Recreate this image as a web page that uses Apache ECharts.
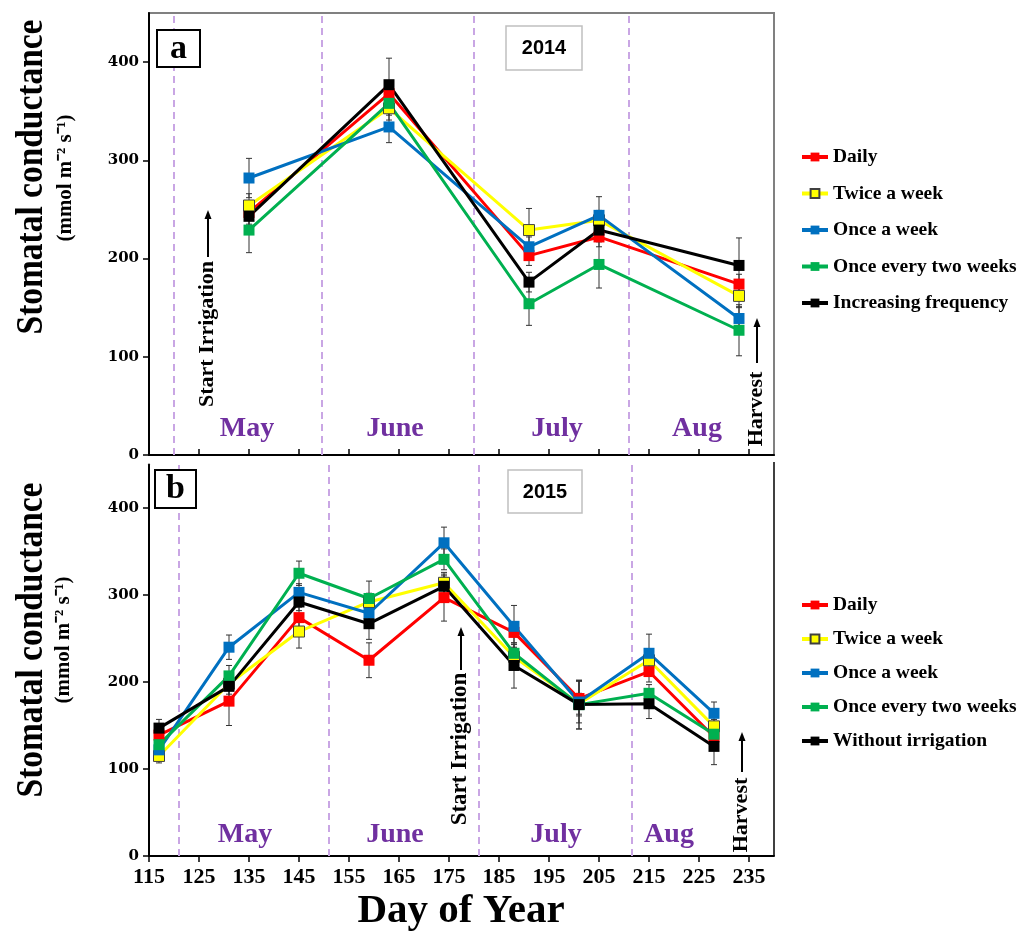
<!DOCTYPE html>
<html><head><meta charset="utf-8">
<script src="https://cdn.jsdelivr.net/npm/echarts@6/dist/echarts.min.js"></script>
<style>html,body{margin:0;padding:0;background:#fff}#c{width:1023px;height:931px}</style>
</head><body><div id="c"></div>
<script>
// ---------- DATA ----------
const seriesNames2014 = ['Daily', 'Twice a week', 'Once a week', 'Once every two weeks', 'Increasing frequency'];
const seriesNames2015 = ['Daily', 'Twice a week', 'Once a week', 'Once every two weeks', 'Without irrigation'];

const days2014 = [135, 163, 191, 205, 233];
const daily2014 = [247, 368, 203, 222, 174];
const twice2014 = [254, 353, 229, 239, 162];
const once2014 = [282, 334, 212, 244, 139];
const twoWeeks2014 = [229, 358, 154, 194, 127];
const increasing2014 = [243, 377, 176, 229, 193];
const seDaily2014 = [12, 12, 10, 10, 10];
const seTwice2014 = [12, 12, 22, 10, 12];
const seOnce2014 = [20, 16, 10, 19, 12];
const seTwoWeeks2014 = [23, 12, 22, 24, 26];
const seIncreasing2014 = [12, 27, 10, 12, 28];

const days2015 = [117, 131, 145, 159, 174, 188, 201, 215, 228];
const daily2015 = [139, 178, 274, 225, 297, 257, 181, 212, 137];
const twice2015 = [115, 198, 258, 292, 314, 229, 175, 225, 149];
const once2015 = [122, 240, 303, 279, 360, 264, 177, 233, 164];
const twoWeeks2015 = [128, 207, 325, 296, 341, 233, 174, 187, 140];
const without2015 = [147, 195, 292, 267, 310, 219, 174, 175, 126];
const seDaily2015 = [8, 28, 12, 20, 27, 12, 20, 12, 8];
const seTwice2015 = [8, 12, 19, 10, 12, 10, 12, 10, 8];
const seOnce2015 = [8, 14, 10, 10, 18, 24, 24, 22, 13];
const seTwoWeeks2015 = [8, 12, 14, 20, 12, 10, 28, 10, 8];
const seWithout2015 = [10, 15, 10, 18, 12, 26, 28, 17, 21];

const monthLines2014 = [120, 149.5, 180, 211];
const monthLines2015 = [121, 151, 181, 211.5];
const monthNames = ['May', 'June', 'July', 'Aug'];

const xTicks = [115, 125, 135, 145, 155, 165, 175, 185, 195, 205, 215, 225, 235];
const yTicks = [0, 100, 200, 300, 400];

// ---------- STYLE ----------
const colors = ['#ff0000', '#ffff00', '#0070c0', '#00b050', '#000000'];
const SERIF = '"Liberation Serif", "Times New Roman", serif';

const values2014 = [daily2014, twice2014, once2014, twoWeeks2014, increasing2014];
const se2014 = [seDaily2014, seTwice2014, seOnce2014, seTwoWeeks2014, seIncreasing2014];
const values2015 = [daily2015, twice2015, once2015, twoWeeks2015, without2015];
const se2015 = [seDaily2015, seTwice2015, seOnce2015, seTwoWeeks2015, seWithout2015];

function lineSeries(names, days, values, axisIdx, monthLines) {
  return values.map((vals, i) => {
    const s = {
      type: 'line', name: names[i], xAxisIndex: axisIdx, yAxisIndex: axisIdx,
      data: days.map((d, k) => [d, vals[k]]),
      symbol: 'rect', symbolSize: 11,
      lineStyle: { color: colors[i], width: 3 },
      itemStyle: { color: colors[i], borderColor: i === 1 ? '#404040' : colors[i], borderWidth: i === 1 ? 1 : 0 },
      z: 3, animation: false
    };
    if (i === 0) {
      s.markLine = {
        silent: true, symbol: ['none', 'none'], label: { show: false },
        lineStyle: { type: [7, 5], color: '#c9a6e4', width: 2 },
        data: monthLines.map(v => ({ xAxis: v })), z: 1
      };
    }
    return s;
  });
}

function errSeries(days, values, ses, axisIdx) {
  const data = [];
  values.forEach((vals, i) => {
    days.forEach((d, k) => data.push([d, vals[k] - ses[i][k], vals[k] + ses[i][k]]));
  });
  return {
    type: 'custom', xAxisIndex: axisIdx, yAxisIndex: axisIdx, z: 2, silent: true, animation: false,
    data: data,
    renderItem: function (params, api) {
      const lo = api.coord([api.value(0), api.value(1)]);
      const hi = api.coord([api.value(0), api.value(2)]);
      const st = { stroke: '#333', lineWidth: 1 };
      return { type: 'group', children: [
        { type: 'line', shape: { x1: lo[0], y1: lo[1], x2: hi[0], y2: hi[1] }, style: st },
        { type: 'line', shape: { x1: lo[0] - 3, y1: lo[1], x2: lo[0] + 3, y2: lo[1] }, style: st },
        { type: 'line', shape: { x1: hi[0] - 3, y1: hi[1], x2: hi[0] + 3, y2: hi[1] }, style: st }
      ] };
    }
  };
}

function xAxisDef(idx, showLabels) {
  return {
    type: 'value', gridIndex: idx, min: 115, max: 240,
    axisLine: { show: true, onZero: false, lineStyle: { color: '#000', width: 2 } },
    axisTick: { show: true, inside: !showLabels, length: 6, customValues: xTicks, lineStyle: { color: '#000', width: 1.5 } },
    axisLabel: { show: showLabels, customValues: xTicks, margin: 10, color: '#000', fontFamily: SERIF, fontWeight: 'bold', fontSize: 22 },
    splitLine: { show: false }
  };
}
function yAxisDef(idx) {
  return {
    type: 'value', gridIndex: idx, min: 0, max: 450,
    axisLine: { show: true, lineStyle: { color: '#000', width: 2 } },
    axisTick: { show: true, length: 6, customValues: yTicks, lineStyle: { color: '#000', width: 1.5 } },
    axisLabel: { customValues: yTicks, margin: 10, color: '#000', fontFamily: '"DejaVu Serif", serif', fontWeight: 'bold', fontSize: 15 },
    splitLine: { show: false }
  };
}

function txt(x, y, text, size, opts) {
  opts = opts || {};
  return {
    type: 'text', x: x, y: y, rotation: opts.rot || 0, scaleX: opts.sx || 1, scaleY: opts.sy || 1, z: 50,
    style: { text: text, font: 'bold ' + size + 'px ' + (opts.family || SERIF), fill: opts.fill || '#000', align: 'center', verticalAlign: 'middle' }
  };
}
function arrowUp(x, yTop, yBot) {
  return { type: 'group', z: 50, children: [
    { type: 'line', shape: { x1: x, y1: yTop + 6, x2: x, y2: yBot }, style: { stroke: '#000', lineWidth: 2 } },
    { type: 'polygon', shape: { points: [[x, yTop], [x - 3.5, yTop + 9], [x + 3.5, yTop + 9]] }, style: { fill: '#000' } }
  ] };
}
function box(x, y, w, h, stroke, lw) {
  return { type: 'rect', z: 40, shape: { x: x, y: y, width: w, height: h }, style: { fill: '#fff', stroke: stroke, lineWidth: lw } };
}

const purple = '#7030a0';
const graphics = [
  // panel a
  box(157, 30, 43, 37, '#000', 2), txt(178.5, 49, 'a', 34),
  box(506, 26, 76, 44, '#c0c0c0', 1.5), txt(544, 48, '2014', 21, { family: '"Liberation Sans", Arial, sans-serif', sx: 0.95 }),
  txt(247, 429, monthNames[0], 28, { fill: purple }), txt(395, 429, monthNames[1], 28, { fill: purple }),
  txt(557, 429, monthNames[2], 28, { fill: purple }), txt(697, 429, monthNames[3], 28, { fill: purple }),
  txt(207, 334, 'Start Irrigation', 22, { rot: Math.PI / 2 }), arrowUp(208, 210, 257),
  txt(756, 409, 'Harvest', 22, { rot: Math.PI / 2 }), arrowUp(757, 318, 363),
  // panel b
  box(155, 470, 41, 38, '#000', 2), txt(175.5, 489, 'b', 34),
  box(508, 470, 74, 43, '#c0c0c0', 1.5), txt(545, 492, '2015', 21, { family: '"Liberation Sans", Arial, sans-serif', sx: 0.95 }),
  txt(245, 835, monthNames[0], 28, { fill: purple }), txt(395, 835, monthNames[1], 28, { fill: purple }),
  txt(556, 835, monthNames[2], 28, { fill: purple }), txt(669, 835, monthNames[3], 28, { fill: purple }),
  txt(460, 749, 'Start Irrigation', 23, { rot: Math.PI / 2 }), arrowUp(461, 627, 670),
  txt(741, 815, 'Harvest', 22, { rot: Math.PI / 2 }), arrowUp(742, 732, 772),
  // right border of bottom panel
  { type: 'line', z: 5, shape: { x1: 774, y1: 462, x2: 774, y2: 856 }, style: { stroke: '#000', lineWidth: 1.5 } },
  // axis titles
  txt(32, 177, 'Stomatal conductance', 38, { rot: Math.PI / 2, sx: 0.88 }),
  txt(65, 178, '(mmol m\u207B\u00B2 s\u207B\u00B9)', 22, { rot: Math.PI / 2, sx: 0.95 }),
  txt(32, 640, 'Stomatal conductance', 38, { rot: Math.PI / 2, sx: 0.88 }),
  txt(63, 640, '(mmol m\u207B\u00B2 s\u207B\u00B9)', 22, { rot: Math.PI / 2, sx: 0.95 }),
  txt(461, 911, 'Day of Year', 41)
];

const legendText = { color: '#000', fontFamily: SERIF, fontWeight: 'bold', fontSize: 19.5, lineHeight: 20 };

const option = {
  animation: false,
  backgroundColor: '#fff',
  grid: [
    { left: 149, top: 13, width: 625, height: 442, show: true, borderColor: '#808080', borderWidth: 2 },
    { left: 149, top: 464.5, width: 625, height: 391.5, show: false }
  ],
  xAxis: [xAxisDef(0, false), xAxisDef(1, true)],
  yAxis: [yAxisDef(0), yAxisDef(1)],
  legend: [
    { orient: 'vertical', left: 800, top: 147, padding: 0, itemWidth: 26, itemHeight: 11, itemGap: 16.5, lineStyle: { width: 4 }, textStyle: legendText, data: seriesNames2014, selectedMode: false },
    { orient: 'vertical', left: 800, top: 595, padding: 0, itemWidth: 26, itemHeight: 11, itemGap: 14, lineStyle: { width: 4 }, textStyle: legendText, data: seriesNames2015, selectedMode: false }
  ],
  graphic: graphics,
  series: [
    errSeries(days2014, values2014, se2014, 0),
    ...lineSeries(seriesNames2014, days2014, values2014, 0, monthLines2014),
    errSeries(days2015, values2015, se2015, 1),
    ...lineSeries(seriesNames2015, days2015, values2015, 1, monthLines2015)
  ]
};

const chart = echarts.init(document.getElementById('c'), null, { renderer: 'canvas' });
chart.setOption(option);
</script>
</body></html>
